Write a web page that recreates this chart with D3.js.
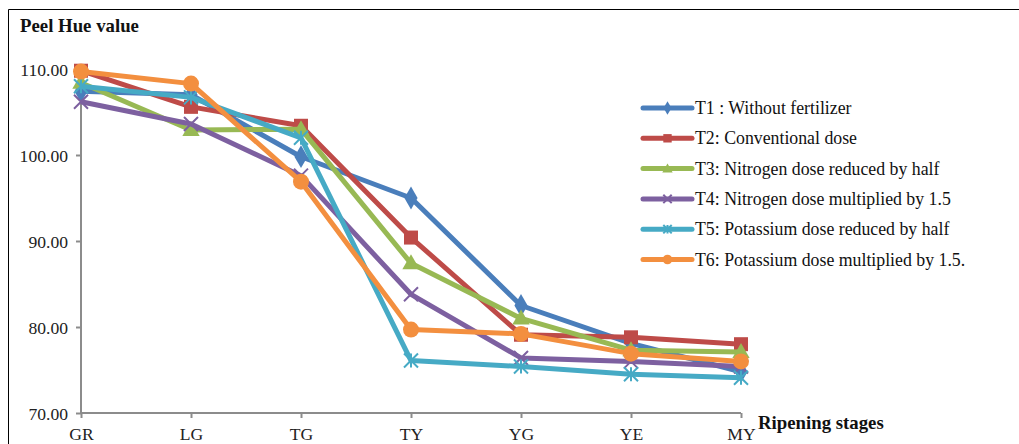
<!DOCTYPE html>
<html><head><meta charset="utf-8">
<script src="https://cdn.jsdelivr.net/npm/d3@7"></script>
<style>
html,body{margin:0;padding:0;background:#fff;}
svg{display:block;font-family:"Liberation Serif","Times New Roman",serif;}
</style></head>
<body>
<svg id="chart" width="1019" height="444"></svg>
<script>
const categories = ["GR","LG","TG","TY","YG","YE","MY"];
const seriesNames = ["T1 : Without fertilizer","T2: Conventional dose","T3: Nitrogen dose reduced by half","T4: Nitrogen dose multiplied by 1.5","T5: Potassium dose reduced by half","T6: Potassium dose multiplied by 1.5."];
const t1 = [107.4,107.0,99.8,95.0,82.5,78.1,74.8];
const t2 = [109.8,105.6,103.4,90.4,79.1,78.8,78.0];
const t3 = [108.4,102.9,103.0,87.4,81.0,77.3,77.1];
const t4 = [106.2,103.6,97.6,83.8,76.4,76.0,75.4];
const t5 = [108.0,106.7,102.0,76.1,75.4,74.5,74.1];
const t6 = [109.7,108.3,96.9,79.7,79.2,76.9,76.0];
const yTicks = [70,80,90,100,110];
const colors = ["#4A7EBB","#BE4B48","#98B954","#7D60A0","#46AAC5","#F38F3F"];
const symbols = ["diamond","square","triangle","x","star","circle"];
const series = [t1,t2,t3,t4,t5,t6];

const svg = d3.select("#chart");
// outer border
svg.append("path").attr("d","M8.5,460 L8.5,9.5 L1030,9.5").attr("fill","none").attr("stroke","#000").attr("stroke-width",1);

const x = d3.scalePoint().domain(categories).range([81,741]).padding(0);
const y = d3.scaleLinear().domain([70,110]).range([413,69]);

const gy = svg.append("g").attr("transform","translate(81,0)")
  .call(d3.axisLeft(y).tickValues(yTicks).tickFormat(d3.format(".2f")).tickSize(5).tickPadding(8));
const gx = svg.append("g").attr("transform","translate(0,413)")
  .call(d3.axisBottom(x).tickSize(5).tickPadding(9));
[gx,gy].forEach(g=>{
  g.select(".domain").attr("stroke","#8c8c8c").attr("stroke-width",2);
  g.selectAll(".tick line").attr("stroke","#8c8c8c").attr("stroke-width",2);
  g.selectAll(".tick text").attr("fill","#222").style("font-size","17.6px").style("font-family","'Liberation Serif',serif");
});
gy.select(".domain").attr("d","M0,413V69");
gx.select(".domain").attr("d","M81,0H741");
gy.selectAll(".tick text").attr("dy","0.35em");
gx.selectAll(".tick text").attr("dy","0.72em");

svg.append("text").attr("x",20).attr("y",32).attr("font-weight","bold").style("font-size","18.8px").attr("fill","#111").text("Peel Hue value");
svg.append("text").attr("x",758).attr("y",429).attr("font-weight","bold").style("font-size","18.8px").attr("fill","#111").text("Ripening stages");

function drawMarker(g, sym, cx, cy, color, scale){
  const s = scale||1;
  if(sym==="diamond"){
    g.append("path").attr("d",d3.symbol(d3.symbolDiamond,150*s*s)()).attr("transform",`translate(${cx},${cy})`).attr("fill",color);
  } else if(sym==="square"){
    const w=14*s; g.append("rect").attr("x",cx-w/2).attr("y",cy-w/2).attr("width",w).attr("height",w).attr("fill",color);
  } else if(sym==="triangle"){
    g.append("path").attr("d",d3.symbol(d3.symbolTriangle,130*s*s)()).attr("transform",`translate(${cx},${cy+1})`).attr("fill",color);
  } else if(sym==="circle"){
    g.append("circle").attr("cx",cx).attr("cy",cy).attr("r",8*s).attr("fill",color);
  } else if(sym==="x"){
    const r=7*s;
    g.append("path").attr("d",`M${cx-r},${cy-r}L${cx+r},${cy+r}M${cx-r},${cy+r}L${cx+r},${cy-r}`).attr("stroke",color).attr("stroke-width",2);
  } else if(sym==="star"){
    const r=7*s;
    g.append("path").attr("d",`M${cx-r},${cy-r}L${cx+r},${cy+r}M${cx-r},${cy+r}L${cx+r},${cy-r}M${cx},${cy-r}V${cy+r}`).attr("stroke",color).attr("stroke-width",2);
  }
}

const line = d3.line().x((d,i)=>x(categories[i])).y(d=>y(d));
series.forEach((vals,si)=>{
  const g = svg.append("g");
  g.append("path").datum(vals).attr("d",line).attr("fill","none").attr("stroke",colors[si]).attr("stroke-width",5).attr("stroke-linejoin","round");
  vals.forEach((v,i)=>drawMarker(g,symbols[si],x(categories[i]),y(v),colors[si],1));
});

// legend
const lg = svg.append("g");
seriesNames.forEach((name,i)=>{
  const yy = 108 + i*30.3;
  lg.append("line").attr("x1",643).attr("x2",692).attr("y1",yy).attr("y2",yy).attr("stroke",colors[i]).attr("stroke-width",5).attr("stroke-linecap","round");
  drawMarker(lg,symbols[i],667.5,yy,colors[i],0.6);
  lg.append("text").attr("x",695).attr("y",yy+6).style("font-size","17.8px").attr("fill","#111").text(name);
});
</script>
</body></html>
